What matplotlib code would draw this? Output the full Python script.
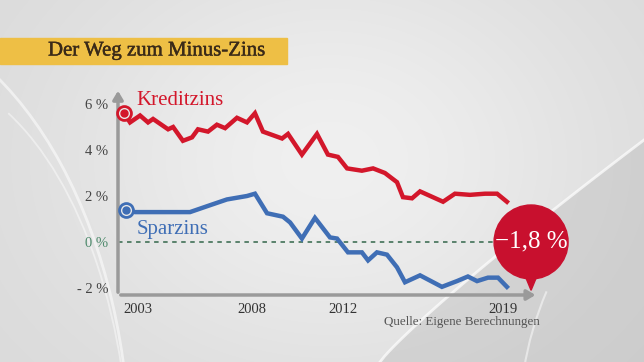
import numpy as np
import matplotlib
matplotlib.use("Agg")
import matplotlib.pyplot as plt
import matplotlib.patheffects as pe
from matplotlib.patches import Rectangle, Ellipse, Polygon, Arc

# data (fractional years, percent)
kredit_years = [2002.39, 2002.65, 2003.09, 2003.44, 2003.66, 2004.32, 2004.54, 2004.97,
                2005.37, 2005.63, 2006.07, 2006.46, 2006.82, 2007.34, 2007.78, 2008.13,
                2008.48, 2009.32, 2009.58, 2010.19, 2010.85, 2011.33, 2011.77, 2012.17,
                2012.82, 2013.31, 2013.83, 2014.36, 2014.62, 2015.02, 2015.37, 2016.38,
                2016.90, 2017.56, 2018.22, 2018.75, 2019.18]
kredit = [5.6, 5.2, 5.5, 5.2, 5.35, 4.9, 5.0, 4.4,
          4.55, 4.9, 4.8, 5.1, 4.95, 5.4, 5.2, 5.6,
          4.8, 4.5, 4.7, 3.8, 4.7, 3.8, 3.7, 3.2,
          3.1, 3.2, 3.0, 2.6, 1.95, 1.9, 2.2, 1.75,
          2.1, 2.05, 2.1, 2.1, 1.75]

spar_years = [2002.47, 2002.87, 2005.28, 2006.16, 2006.90, 2007.78, 2008.13, 2008.66,
              2009.36, 2009.67, 2010.19, 2010.76, 2011.42, 2011.73, 2012.21, 2012.82,
              2013.09, 2013.48, 2013.92, 2014.36, 2014.71, 2015.37, 2016.33, 2016.99,
              2017.47, 2017.87, 2018.35, 2018.79, 2019.18]
spar = [1.4, 1.3, 1.3, 1.6, 1.85, 2.0, 2.1, 1.25,
        1.1, 0.85, 0.15, 1.05, 0.2, 0.15, -0.45, -0.45,
        -0.8, -0.45, -0.55, -1.1, -1.75, -1.45, -1.95, -1.7,
        -1.5, -1.7, -1.55, -1.55, -1.95]

year_ticks = [2003, 2008, 2012, 2019]
pct_ticks = [-2, 0, 2, 4, 6]
pct_labels = ["- 2 %", "0 %", "2 %", "4 %", "6 %"]
last_label = "\u22121,8 %"

RED = "#d3172b"
BLUE = "#3f6eb5"
AXIS = "#9a9a9a"
SERIF = "Liberation Serif"

W, H = 644, 362
fig = plt.figure(figsize=(W / 100, H / 100), dpi=100)

# background: soft grey gradient with a darker wedge bottom right
bg = fig.add_axes([0, 0, 1, 1])
yy, xx = np.mgrid[0:H, 0:W]
img = 0.85 + 0.09 * np.exp(-(((xx - 330) / 280.0) ** 2 + ((yy - 160) / 220.0) ** 2))
bg.imshow(np.dstack([img, img, img]), extent=[0, W, H, 0], aspect="auto", vmin=0, vmax=1)

cx = np.linspace(380, 644, 60)
cy = 362 - (362 - 140) * ((cx - 380) / 264.0) ** 0.9
bg.add_patch(Polygon(np.column_stack([np.r_[cx, 644], np.r_[cy, 362]]), closed=True,
                     color="#a8a8a8", alpha=0.28, lw=0))
bg.plot(cx, cy, color="white", lw=2, alpha=0.7)
for (ax_c, ay_c, w, h, t1, t2, lw, a) in [(-150, 460, 560, 900, 275, 360, 2, 0.55),
                                          (-90, 480, 440, 820, 285, 360, 1.3, 0.45),
                                          (900, 420, 760, 700, 150, 200, 1.5, 0.5)]:
    bg.add_patch(Arc((ax_c, ay_c), w, h, theta1=t1, theta2=t2, color="white", lw=lw, alpha=a))
bg.set_xlim(0, W)
bg.set_ylim(H, 0)
bg.axis("off")

# title bar
fig.patches.append(Rectangle((0, 1 - 64 / H), 287 / W, 26 / H, transform=fig.transFigure,
                             color="#eebf45", zorder=1))
fig.text(48 / W, 1 - 51 / H, "Der Weg zum Minus-Zins", fontsize=15, family=SERIF,
         color="#3a2a18", va="center", ha="left",
         path_effects=[pe.withStroke(linewidth=0.3, foreground="#3a2a18")])

# main axes: pixel 118..530 in x, 88..295 in y
x0, x1 = 2003 - 20 / 22.8, 2003 + 392 / 22.8
y0, y1 = (242 - 295) / 23.0, (242 - 88) / 23.0
ax = fig.add_axes([118 / W, 1 - 295 / H, (530 - 118) / W, (295 - 88) / H])
ax.set_xlim(x0, x1)
ax.set_ylim(y0, y1)
ax.patch.set_alpha(0)
for s in ax.spines.values():
    s.set_visible(False)

ax.set_yticks(pct_ticks)
ax.set_yticklabels(pct_labels, family=SERIF, fontsize=10.5)
ax.set_xticks(year_ticks)
ax.set_xticklabels([str(y) for y in year_ticks], family=SERIF, fontsize=10.5)
ax.tick_params(length=0, pad=6, colors="#333333")
ax.tick_params(axis="y", pad=7)
for lab in ax.get_yticklabels():
    lab.set_color("#4e8a6c" if lab.get_text() == "0 %" else "#444444")

# axis arrows
ax.annotate("", xy=(0, 1.0), xytext=(0, 0), xycoords="axes fraction",
            arrowprops=dict(arrowstyle="-|>,head_length=0.5,head_width=0.3", color=AXIS, lw=2.5))
ax.annotate("", xy=(1.02, 0), xytext=(0, 0), xycoords="axes fraction",
            arrowprops=dict(arrowstyle="-|>,head_length=0.5,head_width=0.3", color=AXIS, lw=2.5))

# zero line
ax.plot([x0, 2019.7], [0, 0], ls=(0, (2.5, 2.5)), color="#4e7a62", lw=1.3, zorder=2)

ax.plot(kredit_years, kredit, color=RED, lw=3.2, solid_joinstyle="miter", zorder=3)
ax.plot(spar_years, spar, color=BLUE, lw=3.2, solid_joinstyle="miter", zorder=3)

for xs, ys, c in [(kredit_years, kredit, RED), (spar_years, spar, BLUE)]:
    ax.plot(xs[0], ys[0], "o", ms=10, mfc="#e8e8e8", mec=c, mew=2, zorder=4, clip_on=False)
    ax.plot(xs[0], ys[0], "o", ms=5, color=c, zorder=5, clip_on=False)

ax.text(2002.95, 6.15, "Kreditzins", color=RED, family=SERIF, fontsize=15, va="center")
ax.text(2002.95, 0.55, "Sparzins", color=BLUE, family=SERIF, fontsize=15, va="center")

# bubble with last value
bx, by = 2020.24, 0.0
ax.add_patch(Polygon([[bx - 0.25, -1.5], [bx + 0.25, -1.5], [bx, -2.1]], closed=True,
                     color="#c8102e", zorder=5, clip_on=False))
ax.add_patch(Ellipse((bx, by), 2 * 37 / 22.8, 2 * 37 / 23.0, color="#c8102e", zorder=6,
                     clip_on=False))
ax.text(bx, by + 0.02, last_label, color="white", family=SERIF, fontsize=18,
        ha="center", va="center", zorder=7, clip_on=False)

fig.text(384 / W, 1 - 322 / H, "Quelle: Eigene Berechnungen", family=SERIF, fontsize=9.4,
         color="#555555", va="center", ha="left")

fig.savefig("out.png", dpi=100)
